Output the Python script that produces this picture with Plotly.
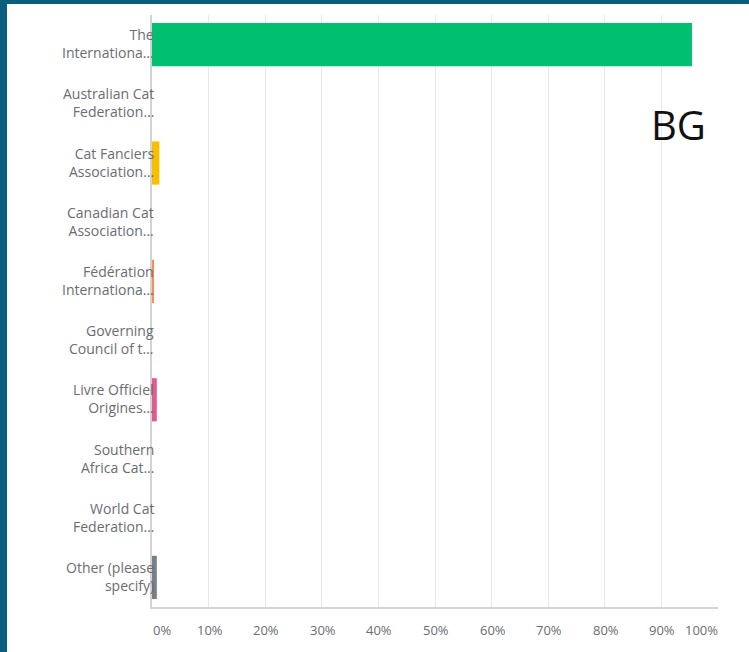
import plotly.graph_objects as go

categories = [
    "The<br>Internationa…",
    "Australian Cat<br>Federation…",
    "Cat Fanciers<br>Association…",
    "Canadian Cat<br>Association…",
    "Fédération<br>Internationa…",
    "Governing<br>Council of t…",
    "Livre Officiel<br>Origines…",
    "Southern<br>Africa Cat…",
    "World Cat<br>Federation…",
    "Other (please<br>specify)",
]
values = [95.4, 0.0, 1.3, 0.0, 0.25, 0.0, 0.85, 0.0, 0.0, 0.85]
colors = ["#00BF6F", "#507CB6", "#F9BE00", "#6BC8CD", "#FF8B4F",
          "#7D5BA6", "#E05C8F", "#A9A9A9", "#9BC46A", "#768086"]
xtick_vals = [0, 10, 20, 30, 40, 50, 60, 70, 80, 90, 100]
xtick_text = ["0%", "10%", "20%", "30%", "40%", "50%", "60%", "70%", "80%", "90%", "100%"]
label_text = "BG"

fig = go.Figure()
fig.add_trace(go.Bar(
    y=list(range(len(categories))),
    x=values,
    orientation="h",
    marker=dict(color=colors, line=dict(width=0)),
    width=0.73,
    hoverinfo="x",
))

font_family = "Open Sans, Lato, sans-serif"
tick_color = "#6a6d72"

annotations = []
for v, t in zip(xtick_vals, xtick_text):
    shift = 10 if v == 0 else (-17 if v == 100 else 1)
    annotations.append(dict(
        x=v, y=0, xref="x", yref="paper", text=t, showarrow=False,
        yshift=-23, xshift=shift, yanchor="middle", xanchor="center",
        font=dict(family=font_family, size=13, color=tick_color),
    ))
for i, c in enumerate(categories):
    annotations.append(dict(
        x=0, y=i, xref="paper", yref="y", text=c, showarrow=False,
        xanchor="right", yanchor="middle", align="right", xshift=4, yshift=1,
        font=dict(family=font_family, size=14, color=tick_color),
    ))
annotations.append(dict(
    x=0.93, y=0.815, xref="paper", yref="paper", text=label_text, showarrow=False,
    xanchor="center", yanchor="middle",
    font=dict(family="Open Sans, Noto Sans, sans-serif", size=40, color="#111111"),
))

H = 592.0
W = 566.0
shapes = [
    dict(type="rect", xref="paper", yref="paper",
         x0=-160 / W, x1=(7 - 152) / W, y0=(607 - 660) / H, y1=(607 + 10) / H,
         fillcolor="#0B5E7B", line=dict(width=0), layer="above"),
    dict(type="rect", xref="paper", yref="paper",
         x0=-160 / W, x1=(760 - 152) / W, y0=(607 - 4) / H, y1=(607 + 10) / H,
         fillcolor="#0B5E7B", line=dict(width=0), layer="above"),
]

fig.update_layout(
    width=749, height=652,
    margin=dict(l=152, r=31, t=15, b=45),
    paper_bgcolor="white", plot_bgcolor="white",
    showlegend=False,
    bargap=0.27,
    xaxis=dict(
        range=[0, 100], tickvals=xtick_vals, showticklabels=False,
        showgrid=True, gridcolor="#e8e8e8", gridwidth=1,
        zeroline=False, showline=True, linecolor="#d3d3d3", linewidth=1.5,
        mirror=False, fixedrange=True,
    ),
    yaxis=dict(
        range=[9.5, -0.5], tickvals=list(range(len(categories))), showticklabels=False,
        showgrid=False, zeroline=False, showline=True, linecolor="#d3d3d3", linewidth=1.5,
        ticks="", fixedrange=True,
    ),
    annotations=annotations,
    shapes=shapes,
)

fig.write_html(
    "out.html",
    config={"displayModeBar": False},
    post_script="document.body.style.margin='0';document.body.style.overflow='hidden';",
)
